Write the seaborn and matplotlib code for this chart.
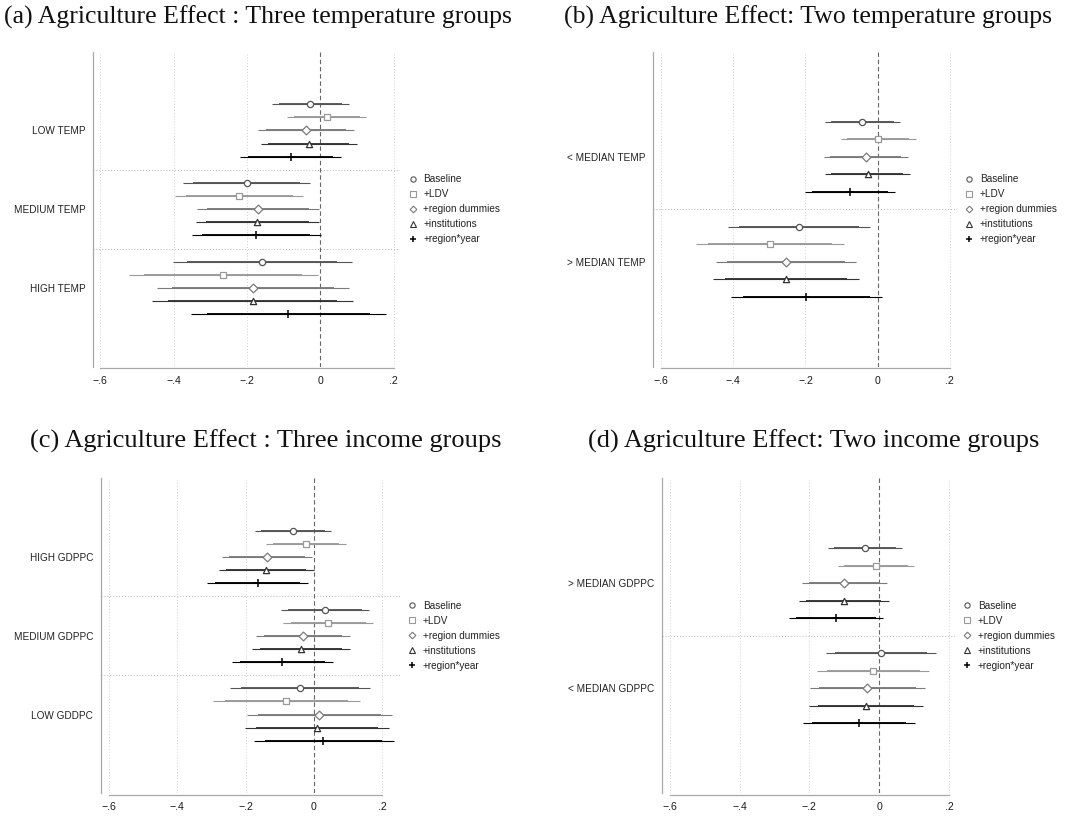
import numpy as np
import pandas as pd
import matplotlib
matplotlib.use('Agg')
from matplotlib import pyplot as plt
from matplotlib.lines import Line2D
import seaborn as sns

sns.set_style('white')
plt.rcParams['font.family'] = ['Liberation Sans', 'DejaVu Sans']

# model specifications (legend order)
models = ['Baseline', '+LDV', '+region dummies', '+institutions', '+region*year']
modelColors = ['#555555', '#9a9a9a', '#7a7a7a', '#333333', '#000000']
modelMarkers = ['o', 's', 'D', '^', '+']

# (a) three temperature groups
titleA = '(a) Agriculture Effect : Three temperature groups'
groupsA = ['LOW TEMP', 'MEDIUM TEMP', 'HIGH TEMP']
estA = [-0.027, 0.017, -0.038, -0.032, -0.081,
        -0.201, -0.222, -0.169, -0.172, -0.175,
        -0.158, -0.265, -0.183, -0.185, -0.087]
lo95A = [-0.131, -0.090, -0.169, -0.163, -0.219,
         -0.375, -0.395, -0.335, -0.338, -0.351,
         -0.403, -0.523, -0.446, -0.459, -0.353]
hi95A = [0.077, 0.124, 0.092, 0.099, 0.056,
         -0.027, -0.047, -0.003, -0.004, 0.001,
         0.085, -0.007, 0.078, 0.089, 0.179]
lo90A = [-0.114, -0.073, -0.148, -0.142, -0.197,
         -0.347, -0.367, -0.308, -0.311, -0.323,
         -0.364, -0.481, -0.404, -0.415, -0.310]
hi90A = [0.060, 0.107, 0.071, 0.078, 0.034,
         -0.055, -0.075, -0.030, -0.031, -0.027,
         0.046, -0.049, 0.036, 0.045, 0.136]

# (b) two temperature groups
titleB = '(b) Agriculture Effect: Two temperature groups'
groupsB = ['< MEDIAN TEMP', '> MEDIAN TEMP']
estB = [-0.042, 0.001, -0.032, -0.028, -0.077,
        -0.219, -0.299, -0.255, -0.255, -0.198]
lo95B = [-0.147, -0.102, -0.150, -0.147, -0.201,
         -0.416, -0.503, -0.449, -0.456, -0.407]
hi95B = [0.062, 0.105, 0.084, 0.090, 0.048,
         -0.021, -0.094, -0.060, -0.053, 0.012]
lo90B = [-0.130, -0.085, -0.131, -0.128, -0.181,
         -0.384, -0.470, -0.418, -0.424, -0.373]
hi90B = [0.045, 0.088, 0.065, 0.071, 0.028,
         -0.053, -0.127, -0.091, -0.086, -0.022]

# (c) three income groups
titleC = '(c) Agriculture Effect : Three income groups'
groupsC = ['HIGH GDPPC', 'MEDIUM GDPPC', 'LOW GDDPC']
estC = [-0.061, -0.024, -0.138, -0.140, -0.165,
        0.032, 0.042, -0.032, -0.038, -0.092,
        -0.040, -0.081, 0.016, 0.010, 0.027]
lo95C = [-0.173, -0.139, -0.270, -0.279, -0.312,
         -0.096, -0.089, -0.169, -0.181, -0.239,
         -0.245, -0.294, -0.197, -0.202, -0.176]
hi95C = [0.051, 0.093, -0.005, 0.001, -0.016,
         0.161, 0.173, 0.105, 0.106, 0.057,
         0.165, 0.134, 0.229, 0.221, 0.233]
lo90C = [-0.155, -0.120, -0.249, -0.257, -0.288,
         -0.075, -0.068, -0.147, -0.158, -0.215,
         -0.212, -0.260, -0.163, -0.168, -0.143]
hi90C = [0.033, 0.074, -0.026, -0.022, -0.040,
         0.140, 0.152, 0.083, 0.083, 0.033,
         0.132, 0.099, 0.195, 0.187, 0.200]

# (d) two income groups
titleD = '(d) Agriculture Effect: Two income groups'
groupsD = ['> MEDIAN GDPPC', '< MEDIAN GDPPC']
estD = [-0.040, -0.009, -0.100, -0.102, -0.124,
        0.004, -0.017, -0.034, -0.039, -0.058]
lo95D = [-0.146, -0.117, -0.222, -0.229, -0.259,
         -0.153, -0.177, -0.198, -0.202, -0.218]
hi95D = [0.065, 0.100, 0.023, 0.027, 0.012,
         0.162, 0.143, 0.131, 0.125, 0.102]
lo90D = [-0.129, -0.100, -0.202, -0.209, -0.237,
         -0.128, -0.151, -0.172, -0.176, -0.192]
hi90D = [0.048, 0.082, 0.003, 0.006, -0.010,
         0.137, 0.117, 0.104, 0.099, 0.076]

xTicks = [-0.6, -0.4, -0.2, 0, 0.2]
xTickLabels = ['\u2212.6', '\u2212.4', '\u2212.2', '0', '.2']

W, H = 1075, 817
fig = plt.figure(figsize=(W / 100, H / 100), dpi=100)


def drawPanel(rectPx, xlim, groups, est, lo95, hi95, lo90, hi90):
    left, right, top, bottom = rectPx
    ax = fig.add_axes([left / W, 1 - bottom / H, (right - left) / W, (bottom - top) / H])
    nG = len(groups)
    df = pd.DataFrame({
        'group': np.repeat(groups, len(models)),
        'model': models * nG,
        'est': est, 'lo95': lo95, 'hi95': hi95, 'lo90': lo90, 'hi90': hi90,
    })
    df['y'] = [6 * g + m for g in range(nG) for m in range(len(models))]

    # grid, reference line and group separators
    for xv in xTicks:
        if xv == 0:
            ax.axvline(0, color='#666666', lw=0.8, ls=(0, (4, 2.5)), zorder=1)
        else:
            ax.axvline(xv, color='#cfcfcf', lw=0.7, ls=(0, (1, 2)), zorder=0)
    for g in range(1, nG):
        ax.axhline(6 * g - 1, color='#b5b5b5', lw=0.7, ls=(0, (1, 2)), zorder=0)

    for m, c, mk in zip(models, modelColors, modelMarkers):
        sub = df[df['model'] == m]
        ax.hlines(sub['y'], sub['lo95'], sub['hi95'], color=c, lw=0.8, zorder=2)
        ax.hlines(sub['y'], sub['lo90'], sub['hi90'], color=c, lw=1.35, zorder=2)
        if mk == '+':
            sns.scatterplot(data=sub, x='est', y='y', marker='+', color=c, s=30,
                            linewidth=1.1, ax=ax, zorder=3, legend=False)
        else:
            sns.scatterplot(data=sub, x='est', y='y', marker=mk, color=c, s=20,
                            linewidth=0.9, ax=ax, zorder=3, legend=False)
            coll = ax.collections[-1]
            coll.set_facecolor('white')
            coll.set_edgecolor(c)

    for s in ['top', 'right']:
        ax.spines[s].set_visible(False)
    ax.spines['bottom'].set_position(('outward', 1))
    ax.spines['left'].set_color('#a8a8a8')
    ax.spines['bottom'].set_color('#a8a8a8')
    ax.spines['left'].set_linewidth(0.9)
    ax.spines['bottom'].set_linewidth(0.9)

    ax.set_xlim(xlim)
    ax.set_ylim(6 * nG + 2, -4)
    ax.set_xlabel('')
    ax.set_ylabel('')

    yt = [-4] + [6 * g + 2 for g in range(nG)] + [6 * nG + 2]
    ax.set_yticks(yt)
    ax.set_yticklabels([''] + list(groups) + [''], fontsize=7.2, color='#222222')
    ax.set_xticks(xTicks)
    ax.set_xticklabels(xTickLabels, fontsize=7.6, color='#1a1a1a')
    ax.tick_params(axis='both', direction='out', length=3.5, width=0.8, color='#a8a8a8', pad=2)
    ax.spines['bottom'].set_bounds(-0.6, 0.2)

    handles = []
    for m, c, mk in zip(models, modelColors, modelMarkers):
        if mk == '+':
            handles.append(Line2D([], [], ls='none', marker='+', color=c, ms=5, mew=1.1))
        else:
            handles.append(Line2D([], [], ls='none', marker=mk, mfc='none', mec=c,
                                  ms=3.8 if mk != 'D' else 3.4, mew=0.8))
    ax.legend(handles, models, loc='center left', bbox_to_anchor=(1.025, 0.5), frameon=False,
              fontsize=7.2, handlelength=1.0, handletextpad=0.55, labelspacing=0.5,
              borderpad=0, borderaxespad=0, labelcolor='#222222')
    return ax


drawPanel((93.3, 400, 51.7, 366.7), (-0.619, 0.217), groupsA, estA, lo95A, hi95A, lo90A, hi90A)
drawPanel((653.3, 956.7, 51.7, 366.7), (-0.6216, 0.219), groupsB, estB, lo95B, hi95B, lo90B, hi90B)
drawPanel((101, 400, 478.3, 793.3), (-0.623, 0.252), groupsC, estC, lo95C, hi95C, lo90C, hi90C)
drawPanel((661.7, 955, 478.3, 793.3), (-0.623, 0.217), groupsD, estD, lo95D, hi95D, lo90D, hi90D)

titleFont = dict(family=['Liberation Serif', 'DejaVu Serif'], fontsize=18.5, color='#111111',
                 ha='center', va='baseline')
fig.text(258 / W, 1 - 23.3 / H, titleA, **titleFont)
fig.text(808.5 / W, 1 - 23.3 / H, titleB, **titleFont)
fig.text(266 / W, 1 - 448 / H, titleC, fontsize=19, **{k: v for k, v in titleFont.items() if k != 'fontsize'})
fig.text(814 / W, 1 - 448 / H, titleD, fontsize=19, **{k: v for k, v in titleFont.items() if k != 'fontsize'})

plt.savefig('out.png', dpi=100)
plt.close()
